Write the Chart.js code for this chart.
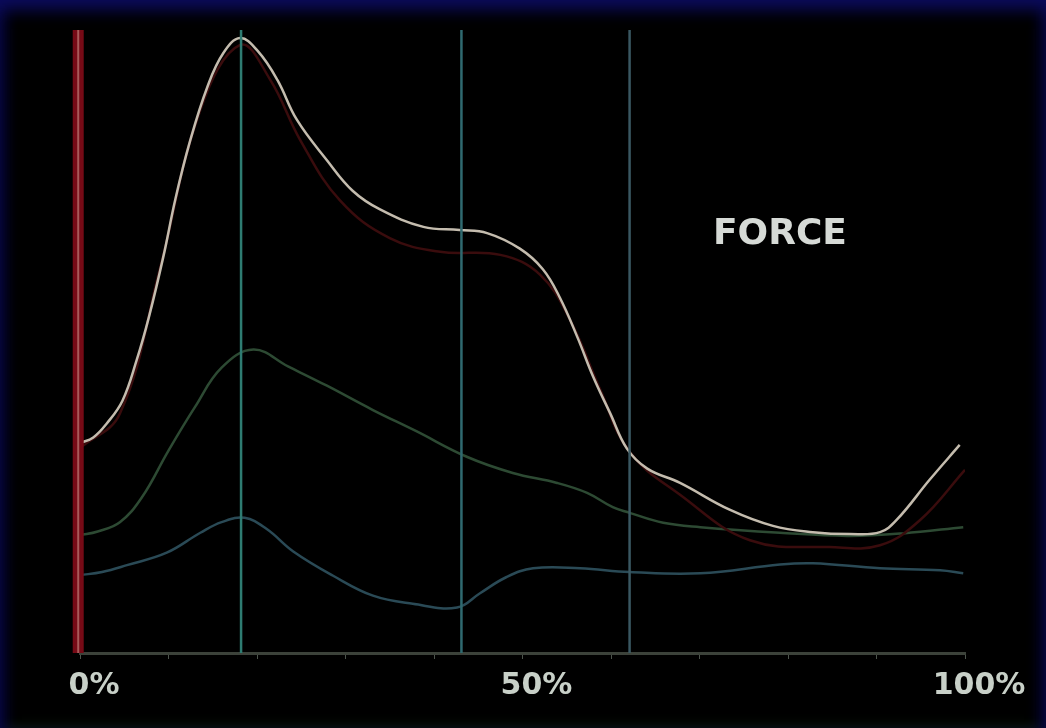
<!DOCTYPE html>
<html>
<head>
<meta charset="utf-8">
<script src="https://cdn.jsdelivr.net/npm/chart.js@4"></script>
<style>
  html, body { margin: 0; padding: 0; background: #000; }
  #frame {
    position: relative;
    width: 1046px;
    height: 728px;
    background: #000;
    box-shadow: inset 0 18px 16px -8px #0b0b5c, inset 14px 0 14px -8px #07073e, inset -14px 0 14px -8px #07073e, inset 0 -12px 12px -8px #0a160a;
    overflow: hidden;
  }
  #forceChart { position: absolute; left: 0; top: 0; }
  #label {
    position: absolute;
    left: 713px;
    top: 214px;
    font: bold 36px "DejaVu Sans", sans-serif;
    line-height: 36px;
    color: #d6dad6;
  }
</style>
</head>
<body>
<div id="frame">
  <canvas id="forceChart" width="1046" height="728"></canvas>
  <div id="label">FORCE</div>
</div>
<script>
// % of stance
const totalPct = [0, 1.5, 3.0, 4.8, 6.4, 7.8, 9.4, 10.8, 12.4, 14.4, 16.2, 18.1, 20.1, 22.3, 24.5, 27.9, 30.8, 33.9, 38.8, 42.9, 46.0, 49.7, 52.3, 54.2, 56.2, 58.0, 59.9, 61.8, 64.1, 67.8, 73.4, 78.3, 82.8, 87.0, 90.4, 92.3, 96.0, 99.4];
const totalForce = [33.7, 34.6, 36.8, 40.5, 47.0, 54.0, 63.5, 73.0, 82.0, 90.9, 96.3, 98.7, 96.6, 92.0, 85.6, 79.1, 74.2, 71.2, 68.4, 67.9, 67.4, 64.9, 61.6, 57.1, 50.7, 44.3, 38.5, 32.8, 29.6, 27.3, 23.0, 20.4, 19.4, 19.1, 19.4, 21.4, 27.8, 33.4];

const redPct = [0, 4.5, 9.0, 13.6, 18.1, 21.5, 24.9, 29.4, 35.0, 40.7, 47.5, 52.0, 55.4, 58.8, 62.1, 67.8, 75.7, 84.7, 90.4, 94.9, 100];
const redForce = [32.9, 38.4, 61.5, 87.2, 97.6, 92.0, 82.3, 72.6, 66.6, 64.4, 63.9, 60.7, 53.4, 42.2, 32.3, 25.4, 18.1, 17.0, 17.3, 21.3, 29.4];

const greenPct = [0, 2.0, 4.5, 7.0, 10.0, 13.0, 16.0, 19.6, 23.5, 27.9, 33.1, 38.0, 43.7, 48.9, 53.9, 57.3, 60.2, 62.1, 65.9, 70.1, 79.1, 86.7, 93.0, 99.8];
const greenForce = [18.9, 19.5, 21.0, 25.0, 32.5, 39.5, 45.8, 48.7, 46.0, 42.9, 39.0, 35.6, 31.5, 28.9, 27.3, 25.7, 23.4, 22.5, 20.9, 20.2, 19.3, 18.8, 19.2, 20.2];

const bluePct = [0, 2.5, 5.3, 9.8, 13.6, 16.0, 18.6, 21.1, 24.1, 28.6, 33.1, 37.6, 42.6, 45.2, 48.2, 51.2, 56.5, 62.1, 70.1, 79.1, 82.8, 90.4, 97.2, 99.8];
const blueForce = [12.5, 13.0, 14.1, 16.1, 19.3, 21.0, 21.7, 19.9, 16.3, 12.4, 9.2, 7.9, 7.3, 9.6, 12.2, 13.6, 13.6, 13.0, 12.8, 14.2, 14.4, 13.6, 13.3, 12.8];

// phase markers (% of stance)
const markers = [18.2, 43.1, 62.1];
const markerColors = ['#2e7c72', '#2f6a70', '#3a5862'];
const tickLabels = { 0: '0%', 50: '50%', 100: '100%' };

const toPoints = (xs, ys) => xs.map((x, i) => ({ x: x, y: ys[i] }));

const curve = (pts, color, width) => ({
    data: pts,
    borderColor: color,
    borderWidth: width,
    pointRadius: 0,
    fill: false,
    tension: 0.4
});

const vline = (x, color, width) => ({
    data: [{ x: x, y: 0 }, { x: x, y: 100 }],
    borderColor: color,
    borderWidth: width,
    pointRadius: 0,
    fill: false,
    tension: 0,
    clip: false
});

const datasets = [
    vline(-0.2, '#a85a5a', 2),
    vline(-0.2, '#760a16', 11),
    ...markers.map((m, i) => vline(m, markerColors[i], 2.5)),
    curve(toPoints(totalPct, totalForce), '#c4bcae', 2.5),
    curve(toPoints(redPct, redForce), '#3a0c0d', 2.5),
    curve(toPoints(greenPct, greenForce), '#2d4a33', 2.5),
    curve(toPoints(bluePct, blueForce), '#2a4a56', 2.5)
];

new Chart(document.getElementById('forceChart').getContext('2d'), {
    type: 'line',
    data: { datasets: datasets },
    options: {
        responsive: false,
        animation: false,
        events: [],
        layout: { padding: { left: 80, right: 81, top: 30, bottom: 15 } },
        plugins: {
            legend: { display: false },
            tooltip: { enabled: false }
        },
        scales: {
            x: {
                type: 'linear',
                min: 0,
                max: 100,
                grid: {
                    drawOnChartArea: false,
                    tickLength: 6,
                    color: '#4c544c'
                },
                border: { color: '#3c423a', width: 3 },
                ticks: {
                    stepSize: 10,
                    autoSkip: false,
                    maxRotation: 0,
                    labelOffset: 14,
                    padding: 9,
                    color: '#c8d0c8',
                    font: { family: 'DejaVu Sans', weight: 'bold', size: 30 },
                    callback: (v) => tickLabels[v] || ''
                }
            },
            y: {
                type: 'linear',
                min: 0,
                max: 100,
                display: false
            }
        }
    }
});
</script>
</body>
</html>
